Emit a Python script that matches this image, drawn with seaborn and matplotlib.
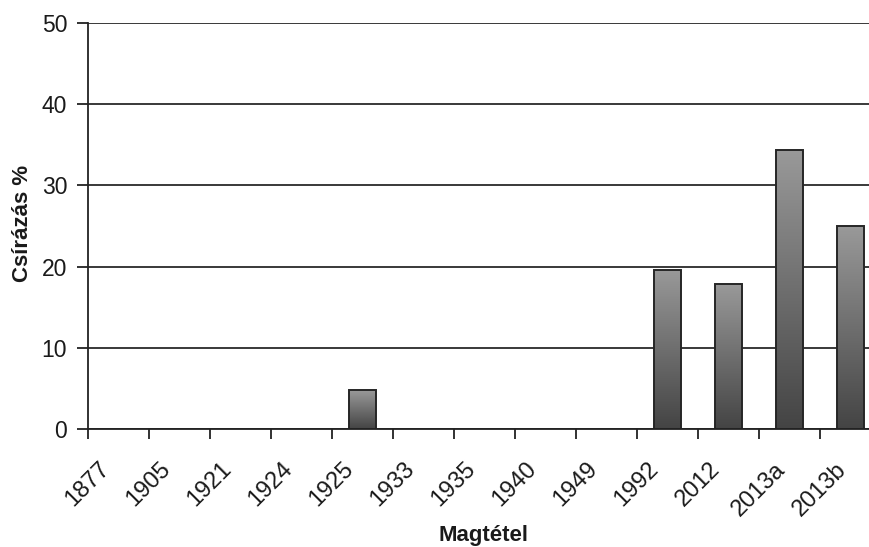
import numpy as np
import pandas as pd
import matplotlib
matplotlib.use("Agg")
import matplotlib.pyplot as plt
import seaborn as sns
from matplotlib.colors import LinearSegmentedColormap

# Seed lots and their germination percentages
lots = ["1877", "1905", "1921", "1924", "1925", "1933", "1935",
        "1940", "1949", "1992", "2012", "2013a", "2013b"]
germination = [0, 0, 0, 0, 4.8, 0, 0, 0, 0, 19.6, 17.8, 34.3, 25.0]
y_ticks = [0, 10, 20, 30, 40, 50]

df = pd.DataFrame({"Magtétel": lots, "Csírázás %": germination})

sns.set_theme(style="white")
plt.rcParams["font.family"] = ["Liberation Sans", "DejaVu Sans"]

fig = plt.figure(figsize=(8.70, 5.47), dpi=100)
ax = fig.add_axes([88 / 870, 118 / 547, 793 / 870, 406 / 547])

sns.barplot(data=df, x="Magtétel", y="Csírázás %", order=lots,
            color="#777777", width=0.43, edgecolor="#262626",
            linewidth=1.4, ax=ax, zorder=3)

# vertical grey gradient inside each bar
grad = LinearSegmentedColormap.from_list("bar", ["#444444", "#999999"])
gradient = np.linspace(0, 1, 256).reshape(-1, 1)
for patch in ax.patches:
    h = patch.get_height()
    if h <= 0:
        patch.set_visible(False)
        continue
    x0 = patch.get_x()
    w = patch.get_width()
    im = ax.imshow(gradient, cmap=grad, aspect="auto", origin="lower",
                   extent=[x0, x0 + w, 0, h], zorder=3.5)
    im.set_clip_path(patch)
    patch.set_facecolor("none")
    patch.set_zorder(4)

ax.set_xlim(-0.5, len(lots) - 0.5)
ax.set_ylim(0, 50)
ax.set_yticks(y_ticks)
ax.set_yticklabels([str(v) for v in y_ticks], fontsize=16.5, color="#1a1a1a")

# category labels sit on the tick marks at the left edge of each slot
ax.set_xticks(np.arange(len(lots)) - 0.5)
ax.set_xticklabels(lots, rotation=45, ha="center", fontsize=17, color="#1a1a1a")

ax.tick_params(axis="y", direction="out", length=8, width=1.3,
               color="#222222", pad=7, left=True)
ax.tick_params(axis="x", direction="out", length=7, width=1.3,
               color="#222222", pad=14, bottom=True)

ax.grid(axis="y", color="#2a2a2a", linewidth=1.3, zorder=1)
ax.set_axisbelow(True)
for side in ["top", "right"]:
    ax.spines[side].set_visible(False)
for side in ["left", "bottom"]:
    ax.spines[side].set_color("#222222")
    ax.spines[side].set_linewidth(1.3)
    ax.spines[side].set_zorder(5)

ax.set_ylabel("Csírázás %", fontsize=16, fontweight="bold", color="#1a1a1a")
ax.set_xlabel("Magtétel", fontsize=16, fontweight="bold", color="#1a1a1a")
ax.yaxis.set_label_coords(-(88 - 23) / 793, (429 - 223) / 406)
ax.yaxis.label.set_verticalalignment("center")
ax.xaxis.set_label_coords((484 - 88) / 793, -(535 - 429) / 406)
ax.xaxis.label.set_verticalalignment("center")

fig.savefig("out.png", dpi=100, facecolor="white")
